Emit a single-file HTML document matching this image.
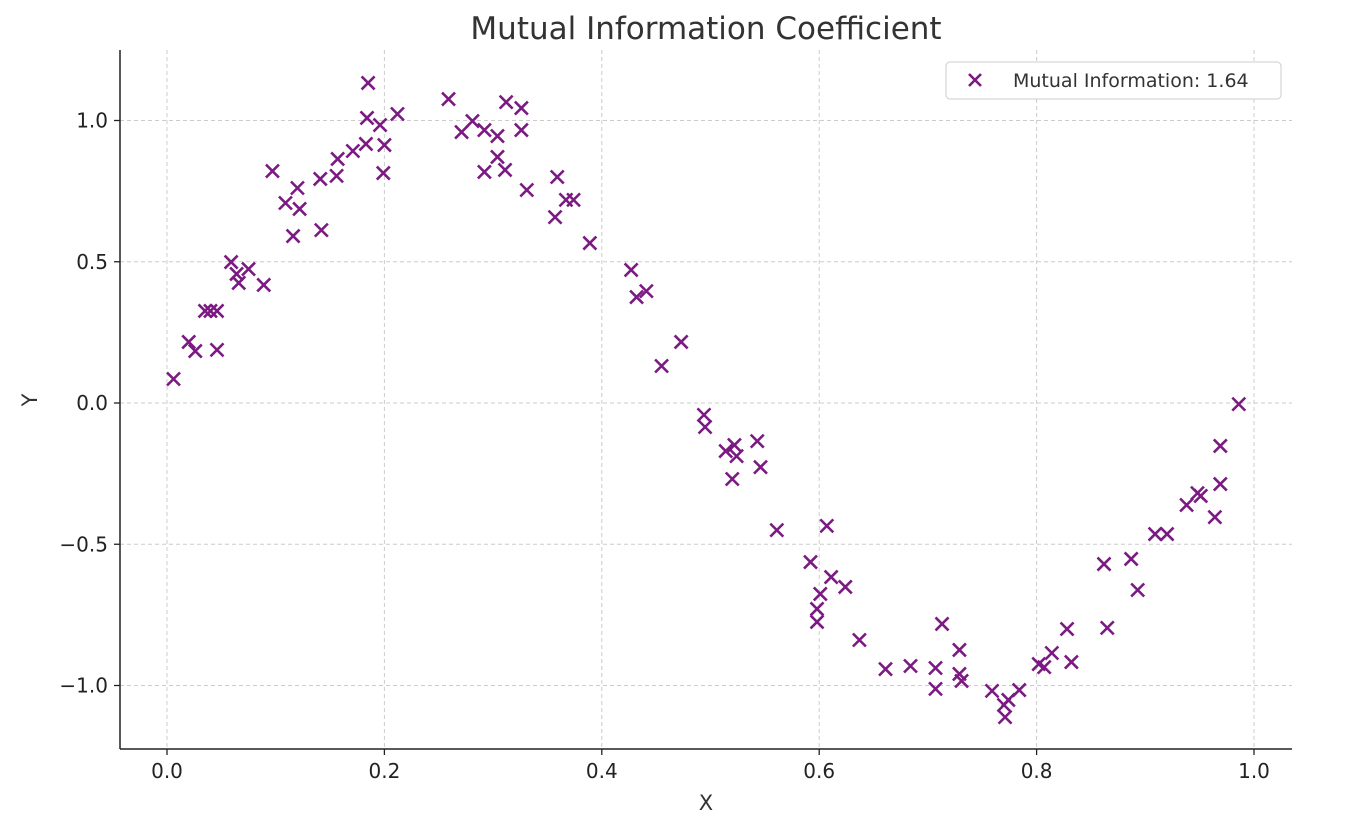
<!DOCTYPE html>
<html><head><meta charset="utf-8"><style>
html,body{margin:0;padding:0;background:#fff;}
svg text{font-family:"DejaVu Sans","Liberation Sans",sans-serif;}
</style></head><body>
<svg id="chart" width="1346" height="834" xmlns="http://www.w3.org/2000/svg">
<rect width="1346" height="834" fill="#fff"/>
<text x="706" y="39" font-size="31" text-anchor="middle" fill="#333">Mutual Information Coefficient</text>
<g id="grid"></g>
<g id="points"></g>
<g id="axes"></g>
<text x="706" y="810" font-size="21" text-anchor="middle" fill="#333">X</text>
<text x="37" y="400" font-size="21" text-anchor="middle" fill="#333" transform="rotate(-90 37 400)">Y</text>
<g>
<rect x="946" y="62" width="335" height="37" rx="4" fill="#fff" stroke="#ccc"/>
<path d="M969 74 L981 86 M981 74 L969 86" stroke="#7b1a82" stroke-width="2.6"/>
<text x="1013" y="87" font-size="19" fill="#333">Mutual Information: 1.64</text>
</g>
</svg>
<script>
const xs=[0.006,0.020,0.026,0.035,0.040,0.046,0.046,0.059,0.064,0.066,0.075,0.089,0.097,0.109,0.116,0.120,0.122,0.141,0.142,0.156,0.157,0.171,0.183,0.185,0.184,0.196,0.199,0.200,0.212,0.259,0.271,0.281,0.292,0.292,0.304,0.304,0.311,0.312,0.326,0.326,0.331,0.357,0.359,0.367,0.374,0.389,0.427,0.432,0.441,0.455,0.473,0.494,0.495,0.514,0.520,0.522,0.524,0.543,0.546,0.561,0.592,0.598,0.598,0.601,0.607,0.611,0.624,0.637,0.661,0.684,0.707,0.707,0.713,0.729,0.729,0.731,0.759,0.770,0.771,0.774,0.784,0.802,0.807,0.814,0.828,0.832,0.862,0.865,0.887,0.893,0.909,0.920,0.938,0.948,0.951,0.964,0.969,0.969,0.986];
const ys=[0.085,0.216,0.184,0.326,0.326,0.326,0.188,0.499,0.457,0.425,0.474,0.418,0.821,0.708,0.591,0.761,0.687,0.793,0.612,0.804,0.864,0.892,0.917,1.133,1.009,0.984,0.814,0.913,1.023,1.076,0.959,0.998,0.966,0.818,0.945,0.871,0.825,1.065,1.044,0.966,0.754,0.658,0.800,0.719,0.719,0.566,0.471,0.375,0.396,0.131,0.216,-0.042,-0.085,-0.170,-0.269,-0.149,-0.188,-0.135,-0.227,-0.450,-0.563,-0.729,-0.775,-0.676,-0.435,-0.616,-0.651,-0.839,-0.942,-0.931,-0.938,-1.012,-0.782,-0.874,-0.959,-0.984,-1.019,-1.069,-1.112,-1.051,-1.016,-0.924,-0.935,-0.885,-0.800,-0.917,-0.570,-0.796,-0.552,-0.662,-0.464,-0.464,-0.361,-0.319,-0.329,-0.404,-0.287,-0.152,-0.004];
const xTicks=[0,0.2,0.4,0.6,0.8,1.0];
const yTicks=[-1,-0.5,0,0.5,1];
const xLabels=["0.0","0.2","0.4","0.6","0.8","1.0"];
const yLabels=["\u22121.0","\u22120.5","0.0","0.5","1.0"];
const L=120,R=1292,T=50,B=749;
function sx(v){return 167+v*1087;}
function sy(v){return 403-v*282.5;}
const NS="http://www.w3.org/2000/svg";
function mk(tag,attrs,parent){const e=document.createElementNS(NS,tag);for(const k in attrs)e.setAttribute(k,attrs[k]);parent.appendChild(e);return e;}
const grid=document.getElementById('grid'),axes=document.getElementById('axes'),pts=document.getElementById('points');
xTicks.forEach((t,i)=>{
  const g=mk('line',{x1:sx(t),x2:sx(t),y1:T,y2:B,stroke:'#ccc','stroke-dasharray':'4,3','stroke-width':1},grid);
  
  
  const tk=mk('line',{x1:sx(t),x2:sx(t),y1:B,y2:B+6,stroke:'#222','stroke-width':1.3},axes);
  
  
  const tx=mk('text',{x:sx(t),y:B+29,'font-size':20,'text-anchor':'middle',fill:'#222'},axes);
  tx.textContent=xLabels[i];
  
  
});
yTicks.forEach((t,i)=>{
  const g=mk('line',{x1:L,x2:R,y1:sy(t),y2:sy(t),stroke:'#ccc','stroke-dasharray':'4,3','stroke-width':1},grid);
  
  
  const tk=mk('line',{x1:L-6,x2:L,y1:sy(t),y2:sy(t),stroke:'#222','stroke-width':1.3},axes);
  
  
  const tx=mk('text',{x:L-12,y:sy(t)+7,'font-size':20,'text-anchor':'end',fill:'#222'},axes);
  tx.textContent=yLabels[i];
  
  
});
const sp1=mk('line',{x1:L,x2:L,y1:T,y2:B,stroke:'#222','stroke-width':1.5},axes);


const sp2=mk('line',{x1:L,x2:R,y1:B,y2:B,stroke:'#222','stroke-width':1.5},axes);


xs.forEach((x,i)=>{
  const cx=sx(x),cy=sy(ys[i]),h=6.5;
  const p=mk('path',{d:`M${cx-h} ${cy-h} L${cx+h} ${cy+h} M${cx+h} ${cy-h} L${cx-h} ${cy+h}`,stroke:'#7b1a82','stroke-width':2.6},pts);
  
  
});
</script>
</body></html>
